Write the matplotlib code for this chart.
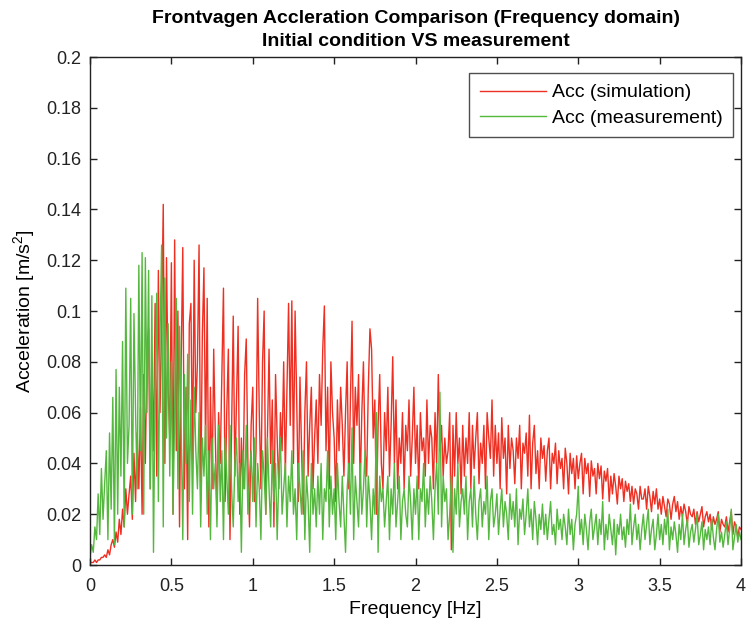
import numpy as np
import matplotlib
matplotlib.use("Agg")
import matplotlib.pyplot as plt
from matplotlib.ticker import FormatStrFormatter, MultipleLocator

# spectrum sampled every 0.01 Hz from 0 to 4 Hz, values in 1e-3 m/s^2
freq_hz = np.arange(401) / 100.0

sim_milli = [
    1, 1, 1, 2, 1, 2, 2, 3, 3, 4,
    3, 6, 4, 8, 10, 7, 13, 9, 18, 12,
    22, 15, 30, 20, 28, 35, 18, 44, 25, 52,
    30, 62, 20, 75, 40, 85, 93, 30, 80, 45,
    103, 35, 116, 60, 95, 142, 40, 121, 70, 50,
    119, 20, 128, 45, 100, 15, 80, 125, 30, 70,
    10, 95, 103, 40, 120, 60, 80, 126, 25, 90,
    117, 45, 105, 15, 70, 30, 85, 50, 20, 60,
    40, 75, 109, 25, 60, 85, 10, 55, 98, 35,
    65, 94, 20, 50, 30, 75, 89, 40, 15, 55,
    70, 25, 45, 105, 60, 30, 80, 100, 20, 50,
    85, 40, 65, 15, 75, 50, 30, 60, 45, 80,
    35, 70, 103, 55, 104, 40, 100, 65, 25, 74,
    45, 20, 60, 80, 35, 55, 70, 30, 50, 65,
    40, 75, 55, 85, 102, 45, 70, 30, 80, 60,
    50, 25, 65, 45, 70, 55, 35, 60, 80, 30,
    65, 96, 40, 70, 55, 75, 30, 60, 80, 45,
    35, 70, 93, 85, 50, 65, 20, 55, 75, 40,
    30, 60, 45, 70, 35, 55, 82, 40, 65, 30,
    50, 40, 60, 30, 55, 45, 65, 35, 50, 70,
    40, 55, 30, 60, 45, 50, 35, 65, 40, 55,
    50, 30, 60, 40, 75, 45, 55, 35, 50, 40,
    45, 60, 6, 55, 35, 60, 40, 50, 28, 55,
    35, 50, 40, 60, 30, 55, 38, 50, 60, 32,
    48, 40, 55, 30, 60, 50, 42, 65, 35, 55,
    40, 52, 30, 58, 42, 50, 28, 55, 38, 50,
    45, 32, 50, 42, 55, 30, 48, 44, 52, 35,
    59, 30, 48, 55, 36, 45, 30, 50, 42, 47,
    33, 45, 50, 30, 44, 40, 48, 32, 45, 38,
    42, 30, 46, 40, 28, 44, 36, 42, 30, 43,
    34, 40, 44, 28, 42, 36, 40, 27, 41, 35,
    38, 28, 40, 34, 39, 26, 37, 33, 38, 25,
    35, 28, 36, 31, 24, 35, 30, 34, 25, 33,
    29, 32, 25, 31, 24, 30, 28, 22, 31, 26,
    26, 30, 22, 31, 27, 21, 29, 24, 30, 22,
    26, 20, 27, 23, 19, 26, 24, 18, 24, 27,
    21, 25, 18, 23, 19, 24, 21, 16, 23, 20,
    19, 22, 16, 21, 17, 20, 23, 15, 19, 21,
    17, 20, 14, 19, 16, 18, 21, 13, 18, 16,
    15, 19, 13, 17, 21, 12, 17, 15, 11, 15,
    14,
]

meas_milli = [
    3, 8, 5, 15, 10, 28, 12, 38, 18, 32,
    45, 10, 52, 22, 66, 8, 77, 20, 70, 35,
    88, 15, 109, 40, 55, 105, 20, 99, 60, 30,
    118, 45, 123, 20, 121, 60, 116, 30, 106, 5,
    70, 107, 25, 90, 126, 15, 113, 50, 95, 35,
    80, 20, 60, 105, 30, 94, 55, 10, 75, 40,
    83, 25, 65, 20, 70, 45, 30, 60, 15, 50,
    35, 55, 20, 45, 10, 50, 30, 40, 15, 55,
    25, 45, 10, 50, 35, 20, 55, 30, 15, 40,
    50, 25, 40, 5, 45, 30, 55, 20, 35, 45,
    25, 50, 15, 40, 30, 10, 45, 35, 20, 50,
    30, 15, 45, 25, 40, 10, 35, 50, 20, 30,
    40, 15, 35, 25, 45, 20, 30, 10, 40, 30,
    20, 45, 10, 35, 25, 5, 40, 20, 30, 15,
    35, 20, 40, 10, 30, 25, 45, 15, 35, 20,
    30, 10, 40, 25, 15, 35, 20, 5, 30, 40,
    20, 54, 10, 35, 25, 15, 40, 20, 30, 45,
    15, 35, 25, 10, 30, 20, 60, 5, 35, 25,
    30, 15, 25, 35, 10, 30, 20, 40, 15, 25,
    35, 10, 25, 30, 20, 15, 35, 25, 10, 30,
    20, 35, 10, 30, 25, 40, 15, 30, 20, 35,
    25, 10, 30, 40, 20, 68, 15, 35, 25, 30,
    10, 20, 35, 5, 30, 20, 40, 15, 25, 30,
    20, 35, 10, 25, 30, 15, 35, 20, 10, 25,
    30, 15, 25, 20, 35, 10, 25, 30, 15, 20,
    28, 12, 22, 30, 15, 25, 20, 10, 28, 18,
    25, 15, 30, 8, 22, 18, 26, 12, 20, 30,
    15, 22, 10, 25, 18, 8, 20, 14, 24, 12,
    20, 10, 18, 25, 12, 16, 8, 22, 14, 18,
    10, 20, 15, 8, 22, 12, 18, 6, 16, 20,
    31, 12, 18, 8, 20, 14, 6, 17, 22, 10,
    15, 20, 8, 18, 12, 25, 6, 16, 10, 20,
    14, 8, 18, 4, 16, 12, 20, 10, 15, 7,
    18, 12, 24, 8, 15, 20, 10, 16, 6, 14,
    20, 10, 16, 22, 8, 14, 18, 6, 12, 20,
    10, 16, 8, 18, 12, 22, 6, 15, 10, 17,
    12, 5, 16, 10, 20, 8, 14, 18, 7, 13,
    16, 9, 14, 20, 8, 12, 17, 6, 14, 10,
    15, 8, 18, 11, 6, 14, 20, 9, 13, 7,
    12, 17, 8, 14, 22, 6, 11, 16, 9, 13,
    10,
]

sim_acc = np.array(sim_milli) / 1000.0
meas_acc = np.array(meas_milli) / 1000.0

plt.rcParams["font.family"] = ["Liberation Sans", "DejaVu Sans"]
plt.rcParams["mathtext.fontset"] = "custom"
plt.rcParams["mathtext.rm"] = "Liberation Sans"

fig = plt.figure(figsize=(7.47, 6.26), dpi=100)
ax = fig.add_axes([0.1205, 0.0974, 0.8715, 0.8115])

ax.plot(freq_hz, sim_acc, color="#ee2f22", linewidth=1.0, label="Acc (simulation)")
ax.plot(freq_hz, meas_acc, color="#55b83e", linewidth=1.0, label="Acc (measurement)")

ax.set_xlim(0, 4)
ax.set_ylim(0, 0.2)
ax.xaxis.set_major_locator(MultipleLocator(0.5))
ax.yaxis.set_major_locator(MultipleLocator(0.02))
ax.xaxis.set_major_formatter(FormatStrFormatter("%g"))
ax.yaxis.set_major_formatter(FormatStrFormatter("%g"))
ax.tick_params(direction="in", top=True, right=True, length=5, width=1.0,
               labelsize=13, colors="#222222", pad=6)
ax.tick_params(axis="x", pad=9)
for spine in ax.spines.values():
    spine.set_color("#222222")
    spine.set_linewidth(1.0)

ax.set_xlabel("Frequency [Hz]", fontsize=14, labelpad=5)
ax.set_ylabel("Acceleration [m/s$^2$]", fontsize=14, labelpad=6)
ax.set_title("Frontvagen Accleration Comparison (Frequency domain)\nInitial condition VS measurement",
             fontsize=14, fontweight="bold", pad=8, linespacing=1.45)

leg = ax.legend(loc="upper right", bbox_to_anchor=(0.9877, 0.9685), fontsize=14,
                frameon=True, fancybox=False, edgecolor="#222222", handlelength=3.4,
                handletextpad=0.3, borderaxespad=0.0, borderpad=0.55, labelspacing=0.4)
leg.get_frame().set_linewidth(1.0)

fig.savefig("out.png", dpi=100, facecolor="white")
